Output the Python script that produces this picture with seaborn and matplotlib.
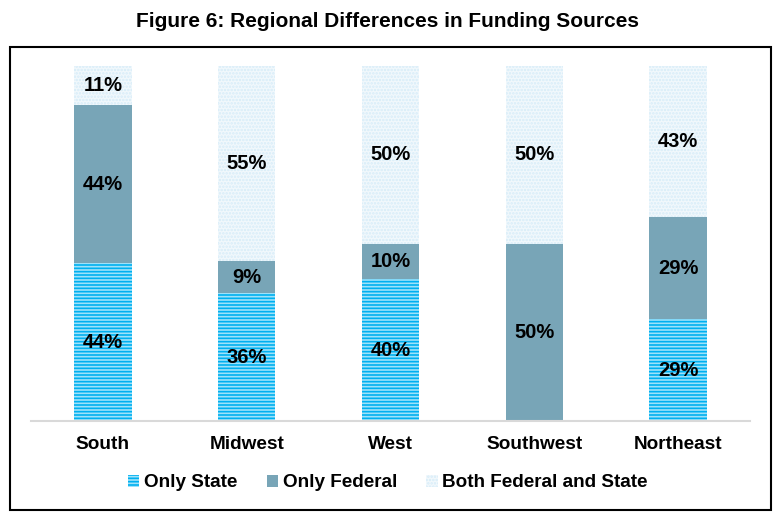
import matplotlib
matplotlib.use("Agg")
import matplotlib.pyplot as plt
from matplotlib.patches import Patch
import seaborn as sns
import numpy as np
import pandas as pd

regions = ["South", "Midwest", "West", "Southwest", "Northeast"]
only_state = [44, 36, 40, 0, 29]
only_federal = [44, 9, 10, 50, 29]
both = [11, 55, 50, 50, 43]

series_names = ["Only State", "Only Federal", "Both Federal and State"]
face = ["#9EE2FA", "#78A5B7", "#F1F8FC"]
hatch_col = ["#00B0F0", "#78A5B7", "#D6ECF8"]
hatches = ["-----", None, "....."]

sns.set_style("white")
plt.rcParams["font.family"] = ["Liberation Sans", "DejaVu Sans"]
plt.rcParams["hatch.linewidth"] = 1.2
plt.rcParams["text.color"] = "black"
plt.rcParams["xtick.color"] = "black"

fig = plt.figure(figsize=(7.76, 5.22), dpi=100)
ax = fig.add_axes([0.040, 0.1935, 0.9265, 0.68])

vals = np.array([only_state, only_federal, both], dtype=float)
pct = vals / vals.sum(axis=0) * 100
bottom = np.zeros(len(regions))

for i, name in enumerate(series_names):
    df = pd.DataFrame({"region": regions, "value": pct[i]})
    n_before = len(ax.patches)
    sns.barplot(data=df, x="region", y="value", bottom=bottom, color=face[i],
                width=0.4, ax=ax, saturation=1)
    for j, p in enumerate(ax.patches[n_before:]):
        p.set_facecolor(face[i])
        p.set_edgecolor(hatch_col[i])
        p.set_linewidth(0)
        if hatches[i]:
            p.set_hatch(hatches[i])
        if vals[i][j] > 0:
            ax.text(j, bottom[j] + pct[i][j] / 2, f"{int(vals[i][j])}%",
                    ha="center", va="center", fontsize=14.5, fontweight="bold",
                    color="black")
    bottom = bottom + pct[i]

ax.set_xlim(-0.5, 4.5)
ax.set_ylim(0, 100)
ax.set_xlabel("")
ax.set_ylabel("")
ax.set_yticks([])
ax.tick_params(axis="x", length=0, pad=11, labelsize=13.7, labelcolor="black")
for t in ax.get_xticklabels():
    t.set_fontweight("bold")
for s in ["top", "left", "right"]:
    ax.spines[s].set_visible(False)
ax.spines["bottom"].set_color("#D9D9D9")
ax.spines["bottom"].set_linewidth(1.5)

handles = [Patch(facecolor=face[i], edgecolor=hatch_col[i], hatch=hatches[i], linewidth=0)
           for i in range(3)]
leg = fig.legend(handles, series_names, loc="center", bbox_to_anchor=(0.5, 0.075),
                 ncol=3, frameon=False, handlelength=0.6, handleheight=0.6,
                 handletextpad=0.25, columnspacing=1.55,
                 prop={"weight": "bold", "size": 13.6})

fig.text(0.5, 0.958, "Figure 6: Regional Differences in Funding Sources",
         ha="center", va="center", fontsize=15, fontweight="bold", color="black")

border = plt.Rectangle((0.013, 0.023), 0.981, 0.887, transform=fig.transFigure,
                       fill=False, edgecolor="black", linewidth=1.5)
fig.patches.append(border)

fig.savefig("out.png", dpi=100)
